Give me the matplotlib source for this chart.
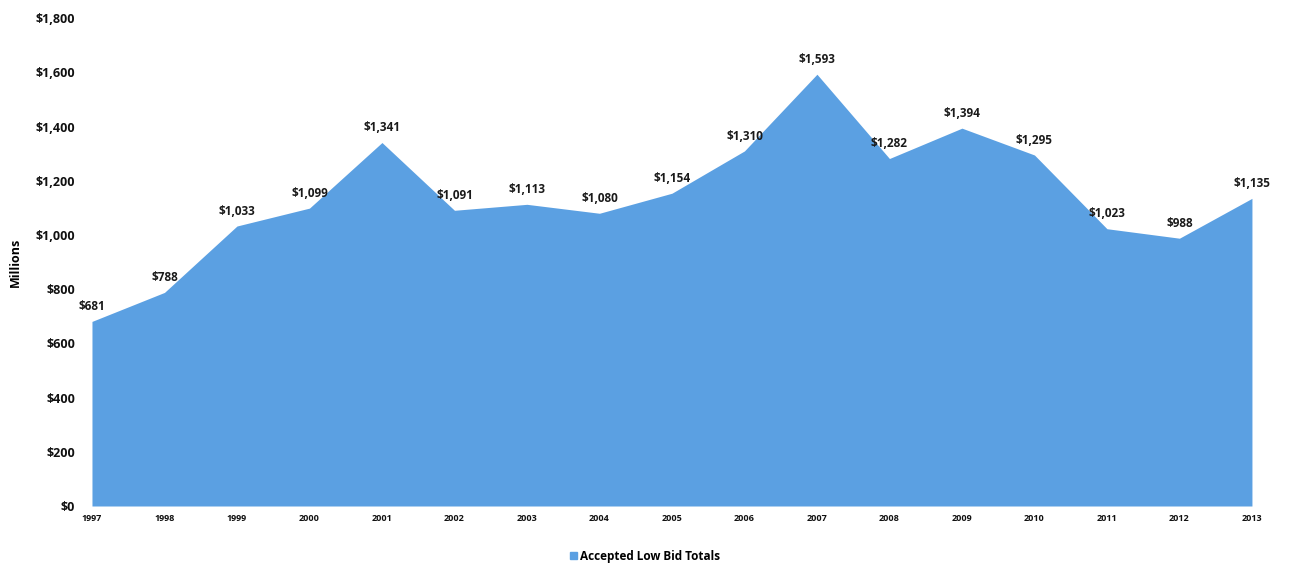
import matplotlib.pyplot as plt
import matplotlib.patches as mpatches
from matplotlib.ticker import FuncFormatter

plt.rcParams['font.family'] = ['Open Sans', 'DejaVu Sans']

# data (millions of dollars)
years = ['1997', '1998', '1999', '2000', '2001', '2002', '2003', '2004', '2005',
         '2006', '2007', '2008', '2009', '2010', '2011', '2012', '2013']
bid_totals = [681, 788, 1033, 1099, 1341, 1091, 1113, 1080, 1154,
              1310, 1593, 1282, 1394, 1295, 1023, 988, 1135]
series_name = 'Accepted Low Bid Totals'

area_color = '#5ba0e2'

fig = plt.figure(figsize=(12.9, 5.66), dpi=100)
ax = fig.add_axes([0.0713, 0.106, 0.8992, 0.862])

x = list(range(len(years)))
ax.fill_between(x, 0, bid_totals, color=area_color, linewidth=0)

for xi, val in zip(x, bid_totals):
    ax.annotate('${:,}'.format(val), (xi, val), xytext=(0, 6),
                textcoords='offset points', ha='center', va='bottom',
                fontsize=8.5, fontweight='bold', color='#1a1a1a')

ax.set_xlim(0, len(years) - 1)
ax.set_ylim(0, 1800)
ax.set_yticks(range(0, 1801, 200))
ax.yaxis.set_major_formatter(FuncFormatter(lambda v, p: '${:,.0f}'.format(v)))
ax.set_xticks(x)
ax.set_xticklabels(years)

ax.tick_params(axis='y', length=0, pad=12, labelsize=9)
ax.tick_params(axis='x', length=0, pad=6, labelsize=6.5)
for lab in ax.get_xticklabels() + ax.get_yticklabels():
    lab.set_fontweight('bold')
    lab.set_color('#111111')

for side in ['top', 'right', 'left', 'bottom']:
    ax.spines[side].set_visible(False)

ax.set_ylabel('Millions', fontsize=9, fontweight='bold', labelpad=10)

handle = mpatches.Patch(color=area_color, label=series_name)
leg = fig.legend(handles=[handle], loc='center', bbox_to_anchor=(0.5, 0.017),
                 frameon=False, fontsize=8.5, handlelength=0.6, handleheight=0.6,
                 handletextpad=0.3)
for t in leg.get_texts():
    t.set_fontweight('bold')

fig.savefig('out.png', dpi=100)
